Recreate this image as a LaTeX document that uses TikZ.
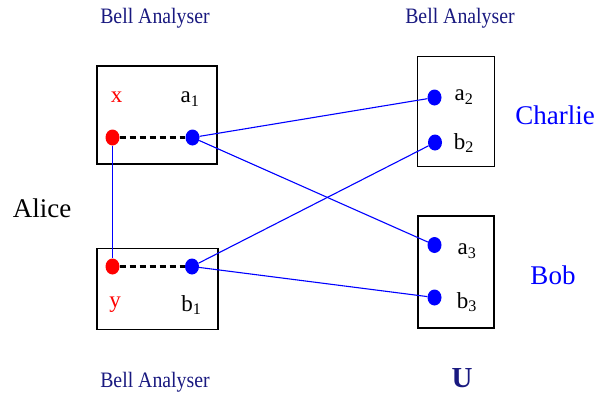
\documentclass[tikz,border=0pt]{standalone}
\usepackage{fontspec}
\setmainfont{Liberation Serif}
\newfontfamily\narrowserif[FakeStretch=0.9]{Liberation Serif}
\usetikzlibrary{shapes.geometric}
\definecolor{DarkNavy}{rgb}{0.1, 0.1, 0.5}
\definecolor{PureBlue}{rgb}{0, 0, 1}
\definecolor{PureRed}{rgb}{1, 0, 0}

\begin{document}
\begin{tikzpicture}[
    x=1pt, y=-1pt,
    analyser/.style={draw=black, line width=1.3pt, inner sep=0},
    dot/.style={ellipse, minimum width=14pt, minimum height=16pt, inner sep=0},
    bluedot/.style={dot, fill=PureBlue},
    reddot/.style={dot, fill=PureRed},
    tit/.style={font=\narrowserif\fontsize{22}{26}\selectfont, text=DarkNavy},
    lbl/.style={font=\fontsize{23}{27}\selectfont, text=black},
    party/.style={font=\fontsize{27}{32}\selectfont, text=PureBlue},
    link/.style={draw=PureBlue, line width=1.1pt},
    pair/.style={draw=black, line width=2.2pt, dash pattern=on 6pt off 4pt},
]
\useasboundingbox (0,0) rectangle (606,394);

% ===== cajas =====
\node[analyser, minimum width=120pt, minimum height=98pt] (box1) at (157,115) {};
\node[analyser, minimum width=121pt, minimum height=81pt] (box2) at (157.5,289) {};
\node[analyser, minimum width=77pt, minimum height=110pt] (box3) at (456,111.5) {};
\node[analyser, minimum width=76pt, minimum height=112pt] (box4) at (456,272) {};

% ===== titulos =====
\node[tit] (t1) at (155,18) {Bell Analyser};
\node[tit] (t2) at (460,18) {Bell Analyser};
\node[tit, inner sep=1pt] (t3) at (155,382) {Bell Analyser};
\node[font=\fontsize{29}{34}\selectfont\bfseries, text=DarkNavy, inner sep=0pt] (u) at (462,378) {U};

% ===== partes =====
\node[party, text=black] (alice) at (42,208) {Alice};
\node[party] (charlie) at (555,115) {Charlie};
\node[party] (bob) at (553,275) {Bob};

% ===== puntos =====
\node[reddot] (xdot) at (112.5,137.5) {};
\node[bluedot] (aone) at (192.5,137.5) {};
\node[reddot] (ydot) at (112.5,266.5) {};
\node[bluedot] (bone) at (192,266.5) {};
\node[bluedot] (atwo) at (434.5,97.5) {};
\node[bluedot] (btwo) at (435,142.5) {};
\node[bluedot] (athree) at (434.5,245) {};
\node[bluedot] (bthree) at (434.5,297.5) {};

% ===== etiquetas =====
\node[lbl, text=PureRed] (xl) at (116.5,97) {x};
\node[lbl] (al1) at (190,99) {a\textsubscript{1}};
\node[lbl, text=PureRed] (yl) at (115,305) {y};
\node[lbl] (bl1) at (191.5,305) {b\textsubscript{1}};
\node[lbl] (al2) at (464,97) {a\textsubscript{2}};
\node[lbl] (bl2) at (464,143) {b\textsubscript{2}};
\node[lbl] (al3) at (467,251) {a\textsubscript{3}};
\node[lbl] (bl3) at (467,302) {b\textsubscript{3}};

% ===== conexiones =====
\draw[pair] (xdot) -- (aone);
\draw[pair] (ydot) -- (bone);
\draw[link] (xdot) -- (ydot);
\draw[link] (aone) -- (atwo);
\draw[link] (aone) -- (athree);
\draw[link] (bone) -- (btwo);
\draw[link] (bone) -- (bthree);

\end{tikzpicture}
\end{document}
